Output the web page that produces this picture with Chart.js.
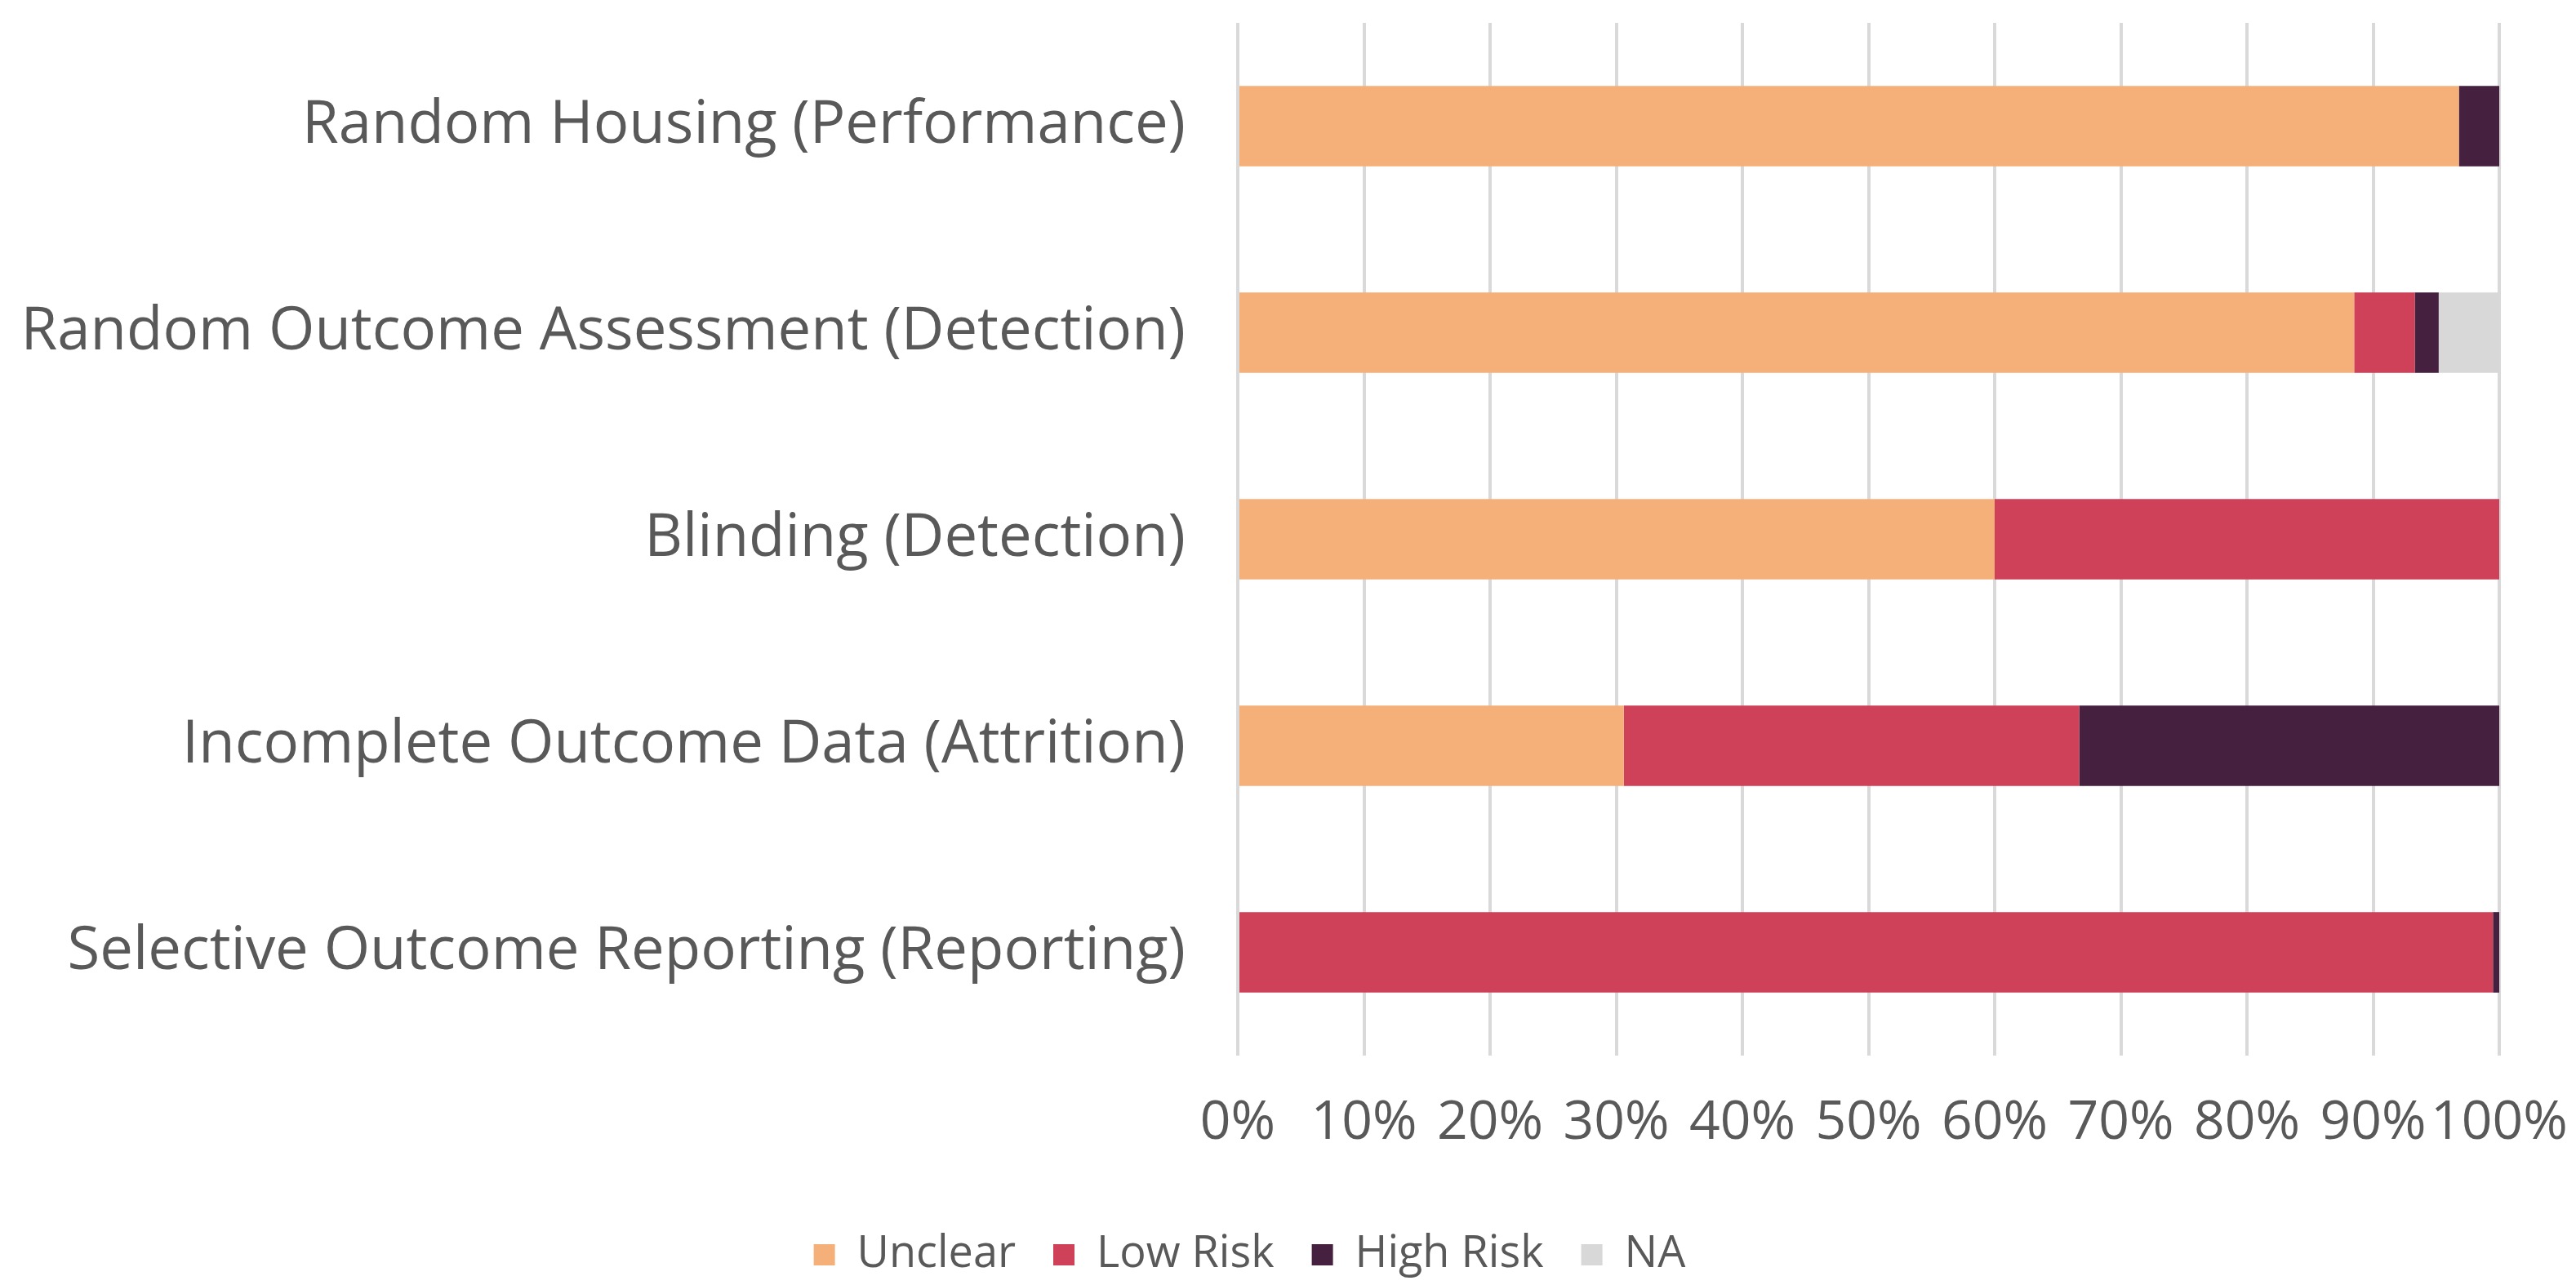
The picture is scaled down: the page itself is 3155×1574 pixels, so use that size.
<!DOCTYPE html>
<html>
<head>
<meta charset="utf-8">
<title>Risk of Bias</title>
<script src="https://cdn.jsdelivr.net/npm/chart.js@4/dist/chart.umd.min.js"></script>
<style>
  html, body { margin: 0; padding: 0; background: #fff; }
  #wrap { width: 3155px; height: 1574px; position: relative; }
</style>
</head>
<body>
<div id="wrap"><canvas id="bias-chart"></canvas></div>
<script>
const categories = [
  'Random Housing (Performance)',
  'Random Outcome Assessment (Detection)',
  'Blinding (Detection)',
  'Incomplete Outcome Data (Attrition)',
  'Selective Outcome Reporting (Reporting)'
]

// percent of studies per judgement
const unclear = [96.8, 88.5, 60, 30.6, 0]
const lowRisk = [0, 4.8, 40, 36.1, 99.5]
const highRisk = [3.2, 1.9, 0, 33.3, 0.5]
const notApplicable = [0, 4.8, 0, 0, 0]

const xTicks = [0, 10, 20, 30, 40, 50, 60, 70, 80, 90, 100]

const textColor = '#595959'
const gridColor = '#D9D9D9'

const ctx = document.getElementById('bias-chart')

new Chart(ctx, {
  type: 'bar',
  data: {
    labels: categories,
    datasets: [
      { label: 'Unclear', data: unclear, backgroundColor: '#F5B07A' },
      { label: 'Low Risk', data: lowRisk, backgroundColor: '#CE4159' },
      { label: 'High Risk', data: highRisk, backgroundColor: '#46213F' },
      { label: 'NA', data: notApplicable, backgroundColor: '#D8D8D8' }
    ]
  },
  options: {
    indexAxis: 'y',
    responsive: true,
    maintainAspectRatio: false,
    devicePixelRatio: 1,
    animation: false,
    datasets: {
      bar: { barPercentage: 0.39, categoryPercentage: 1.0, borderWidth: 0 }
    },
    layout: {
      // right padding also pulls the centred legend a little to the left
      padding: { top: 28, right: 94, left: 0, bottom: 0 }
    },
    plugins: {
      tooltip: { enabled: false },
      legend: {
        position: 'bottom',
        labels: {
          color: textColor,
          font: { family: 'Open Sans', size: 54 },
          boxWidth: 26,
          boxHeight: 26,
          padding: 46
        }
      }
    },
    scales: {
      x: {
        stacked: true,
        min: 0,
        max: 100,
        afterBuildTicks: scale => {
          scale.ticks = xTicks.map(v => ({ value: v }))
        },
        afterFit: scale => {
          scale.height = 171
          scale.paddingRight = 0
        },
        ticks: {
          color: textColor,
          font: { family: 'Open Sans', size: 66 },
          padding: 44,
          maxRotation: 0,
          autoSkip: false,
          callback: v => v + '%'
        },
        grid: { color: gridColor, lineWidth: 4, drawTicks: false },
        border: { display: false }
      },
      y: {
        stacked: true,
        afterFit: scale => {
          scale.width = 1516
          scale.paddingTop = 0
          scale.paddingBottom = 0
        },
        ticks: {
          color: textColor,
          font: { family: 'Open Sans', size: 72.5 },
          padding: 64
        },
        grid: { display: false, drawTicks: false },
        border: { display: false }
      }
    }
  }
})
</script>
</body>
</html>
